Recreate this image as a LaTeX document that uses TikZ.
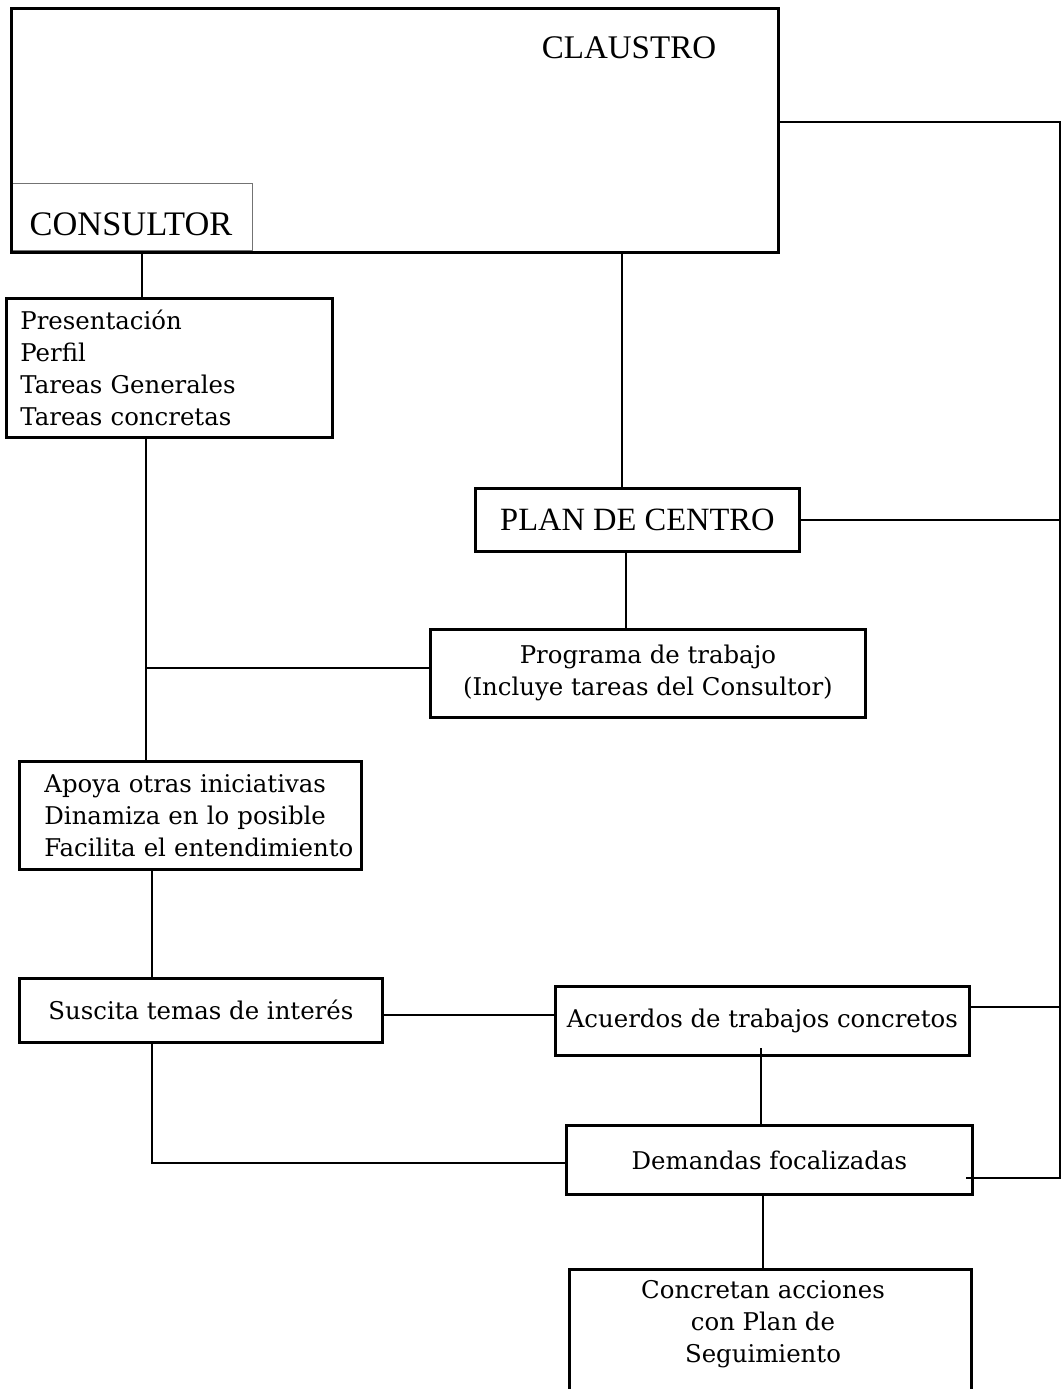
\documentclass[tikz,border=0pt]{standalone}
\usepackage{fontspec}
\setmainfont{DejaVu Serif}
\newfontfamily\titlefont{Liberation Serif}
\usetikzlibrary{calc}
\begin{document}
\begin{tikzpicture}[x=1pt,y=-1pt,
  box/.style={draw=black, line width=2.8pt, inner sep=0pt, anchor=north west,
    font=\fontsize{24.4}{32}\selectfont},
  thinbox/.style={draw=black!55, line width=1pt, inner sep=0pt},
  link/.style={line width=2.8pt},
  title/.style={font=\titlefont\fontsize{33}{36}\selectfont, inner sep=0pt},
  body/.style={font=\fontsize{24.4}{32}\selectfont, inner sep=0pt}]
\clip (0,0) rectangle (1062,1389);

% Claustro frame with the Consultor tab in its lower left corner
\node[thinbox, minimum width=242pt, minimum height=67pt, anchor=south west] (consultor) at (10,251) {};
\node[box, minimum width=767pt, minimum height=244pt] (claustro) at (10,7) {};
\node[title, anchor=base] (claustrotext) at (629,59) {CLAUSTRO};
\node[title, font=\titlefont\fontsize{34.4}{36}\selectfont, anchor=base] (consultortext) at (131,235) {CONSULTOR};

% Boxes
\node[box, minimum width=326pt, minimum height=139pt, text width=298pt, align=left] (pres) at (5,297)
  {Presentación\\Perfil\\Tareas Generales\\Tareas concretas};
\node[box, minimum width=324pt, minimum height=63pt, font=\titlefont\fontsize{32.5}{34}\selectfont] (plan) at (474,487)
  {PLAN DE CENTRO};
\node[box, minimum width=435pt, minimum height=88pt, align=center] (prog) at (429,628)
  {Programa de trabajo\\(Incluye tareas del Consultor)};
\node[box, minimum width=342pt, minimum height=108pt, text width=292pt, align=left] (apoya) at (18,760)
  {\mbox{Apoya otras iniciativas}\\\mbox{Dinamiza en lo posible}\\\mbox{Facilita el entendimiento}};
\node[box, minimum width=363pt, minimum height=64pt] (susc) at (18,977) {Suscita temas de interés};
\node[box, minimum width=414pt, minimum height=69pt] (acu) at (554,985) {Acuerdos de trabajos concretos};
\node[box, minimum width=406pt, minimum height=69pt] (dem) at (565,1124) {Demandas focalizadas};
\node[box, minimum width=402pt, minimum height=200pt] (conc) at (568,1268) {};
\node[body, anchor=north, align=center] (conctext) at ($(conc.north west)+(195,12)$)
  {Concretan acciones\\con Plan de\\Seguimiento};

% Right-hand bus
\coordinate (busbot) at (1060,1178);
\draw[link] ($(claustro.north east)+(0,115)$) -| (busbot) -- ($(dem.north east)+(-8,54)$);
\draw[link] (plan.east) -- (plan.east -| busbot);
\path ($(acu.north east)+(0,22)$) coordinate (acuR);
\draw[link] (acuR) -- (acuR -| busbot);

% Left chain
\draw[link] ($(claustro.south west)+(132,0)$) -- ($(pres.north west)+(137,0)$);
\path ($(pres.south west)+(141,0)$) coordinate (presB);
\draw[link] (presB) -- ($(apoya.north west)+(128,0)$);
\path ($(prog.north west)+(0,40)$) coordinate (progL);
\draw[link] (progL) -- (progL -| presB);
\draw[link] ($(apoya.south west)+(134,0)$) -- ($(susc.north west)+(134,0)$);
\draw[link] ($(susc.south west)+(134,0)$) |- ($(dem.north west)+(0,39)$);

% Middle chain
\path ($(plan.north west)+(148,0)$) coordinate (planT);
\draw[link] (planT) -- (planT |- claustro.south);
\draw[link] ($(plan.south west)+(152,0)$) -- ($(prog.north west)+(197,0)$);
\draw[link] ($(susc.north east)+(0,38)$) -- ($(acu.north west)+(0,30)$);
\draw[link] ($(acu.north west)+(207,63)$) -- ($(dem.north west)+(196,0)$);
\draw[link] ($(dem.south west)+(198,0)$) -- ($(conc.north west)+(195,0)$);
\end{tikzpicture}
\end{document}
